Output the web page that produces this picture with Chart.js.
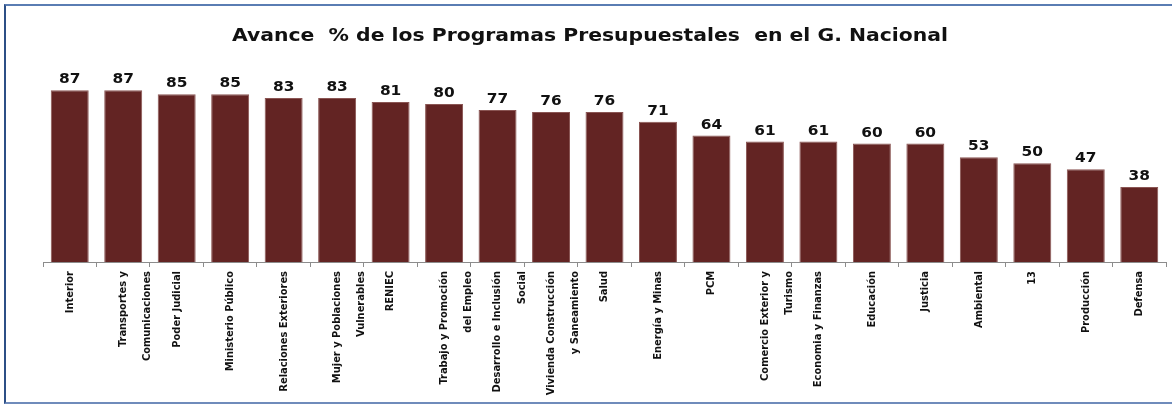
<!DOCTYPE html>
<html>
<head>
<meta charset="utf-8">
<script src="https://cdn.jsdelivr.net/npm/chart.js@4"></script>
<style>
  body { margin: 0; background: #fff; }
  #wrap { position: relative; width: 1172px; height: 408px; }
  #frame {
    position: absolute; left: 4px; top: 4px; width: 1168px; height: 400px;
    border-left: 2px solid #2c4f86; border-top: 2px solid #5a7db3; border-bottom: 2px solid #6f8bbb;
    box-sizing: border-box; pointer-events: none;
  }
</style>
</head>
<body>
<div id="wrap">
  <canvas id="chart-avance" width="1172" height="408"></canvas>
  <div id="frame"></div>
</div>
<script>
// Programas presupuestales y su avance (%)
const titulo = 'Avance  % de los Programas Presupuestales  en el G. Nacional';
const programas = [
  'Interior',
  ['Transportes y', 'Comunicaciones'],
  'Poder Judicial',
  'Ministerio Público',
  'Relaciones Exteriores',
  ['Mujer y Poblaciones', 'Vulnerables'],
  'RENIEC',
  ['Trabajo y Promoción', 'del Empleo'],
  ['Desarrollo e Inclusión', 'Social'],
  ['Vivienda Construcción', 'y Saneamiento'],
  'Salud',
  'Energía y Minas',
  'PCM',
  ['Comercio Exterior y', 'Turismo'],
  'Economia y Finanzas',
  'Educación',
  'Justicia',
  'Ambiental',
  '13',
  'Producción',
  'Defensa'
];
const avance = [87, 87, 85, 85, 83, 83, 81, 80, 77, 76, 76, 71, 64, 61, 61, 60, 60, 53, 50, 47, 38];

// Título ensanchado y valor encima de cada barra
const textosPlugin = {
  id: 'textos',
  afterDraw(chart) {
    const ctx = chart.ctx;
    ctx.save();
    ctx.font = 'bold 17px "DejaVu Sans", Verdana, sans-serif';
    ctx.fillStyle = '#111';
    ctx.textAlign = 'center';
    ctx.textBaseline = 'alphabetic';
    const ancho = ctx.measureText(titulo).width;
    ctx.translate(590, 41);
    ctx.scale(716 / ancho, 1);
    ctx.fillText(titulo, 0, 0);
    ctx.restore();
  },
  afterDatasetsDraw(chart) {
    const ctx = chart.ctx;
    const meta = chart.getDatasetMeta(0);
    ctx.save();
    ctx.font = 'bold 14px "DejaVu Sans", Verdana, sans-serif';
    ctx.fillStyle = '#111';
    ctx.textAlign = 'center';
    ctx.textBaseline = 'alphabetic';
    meta.data.forEach((bar, i) => {
      const x = bar.x, y = bar.y - 7;
      ctx.save();
      ctx.translate(x, y);
      ctx.scale(1.1, 1);
      ctx.fillText(chart.data.datasets[0].data[i], 0, 0);
      ctx.restore();
    });
    ctx.restore();
  }
};

new Chart(document.getElementById('chart-avance'), {
  type: 'bar',
  data: {
    labels: programas,
    datasets: [{
      data: avance,
      backgroundColor: '#632423',
      borderColor: '#8a5553',
      borderWidth: { top: 1, left: 1, right: 1, bottom: 0 },
      categoryPercentage: 1,
      barPercentage: 0.71
    }]
  },
  options: {
    responsive: false,
    animation: false,
    layout: { padding: { left: 43, right: 6, top: 64.5, bottom: 6 } },
    plugins: {
      legend: { display: false },
      tooltip: { enabled: false },
      title: { display: false }
    },
    scales: {
      y: { display: false, min: 0, max: 100 },
      x: {
        afterFit(scale) { scale.height = 140; },
        border: { display: true, color: '#8c8c8c', width: 1 },
        grid: { display: true, drawOnChartArea: false, drawTicks: true, tickLength: 5, color: '#8c8c8c', offset: true },
        ticks: {
          minRotation: 90,
          maxRotation: 90,
          autoSkip: false,
          padding: 4,
          color: '#111',
          font: { family: '"Liberation Sans Narrow", "DejaVu Sans Condensed", sans-serif', size: 11, weight: 'bold', lineHeight: 2.2 }
        }
      }
    }
  },
  plugins: [textosPlugin]
});
</script>
</body>
</html>
